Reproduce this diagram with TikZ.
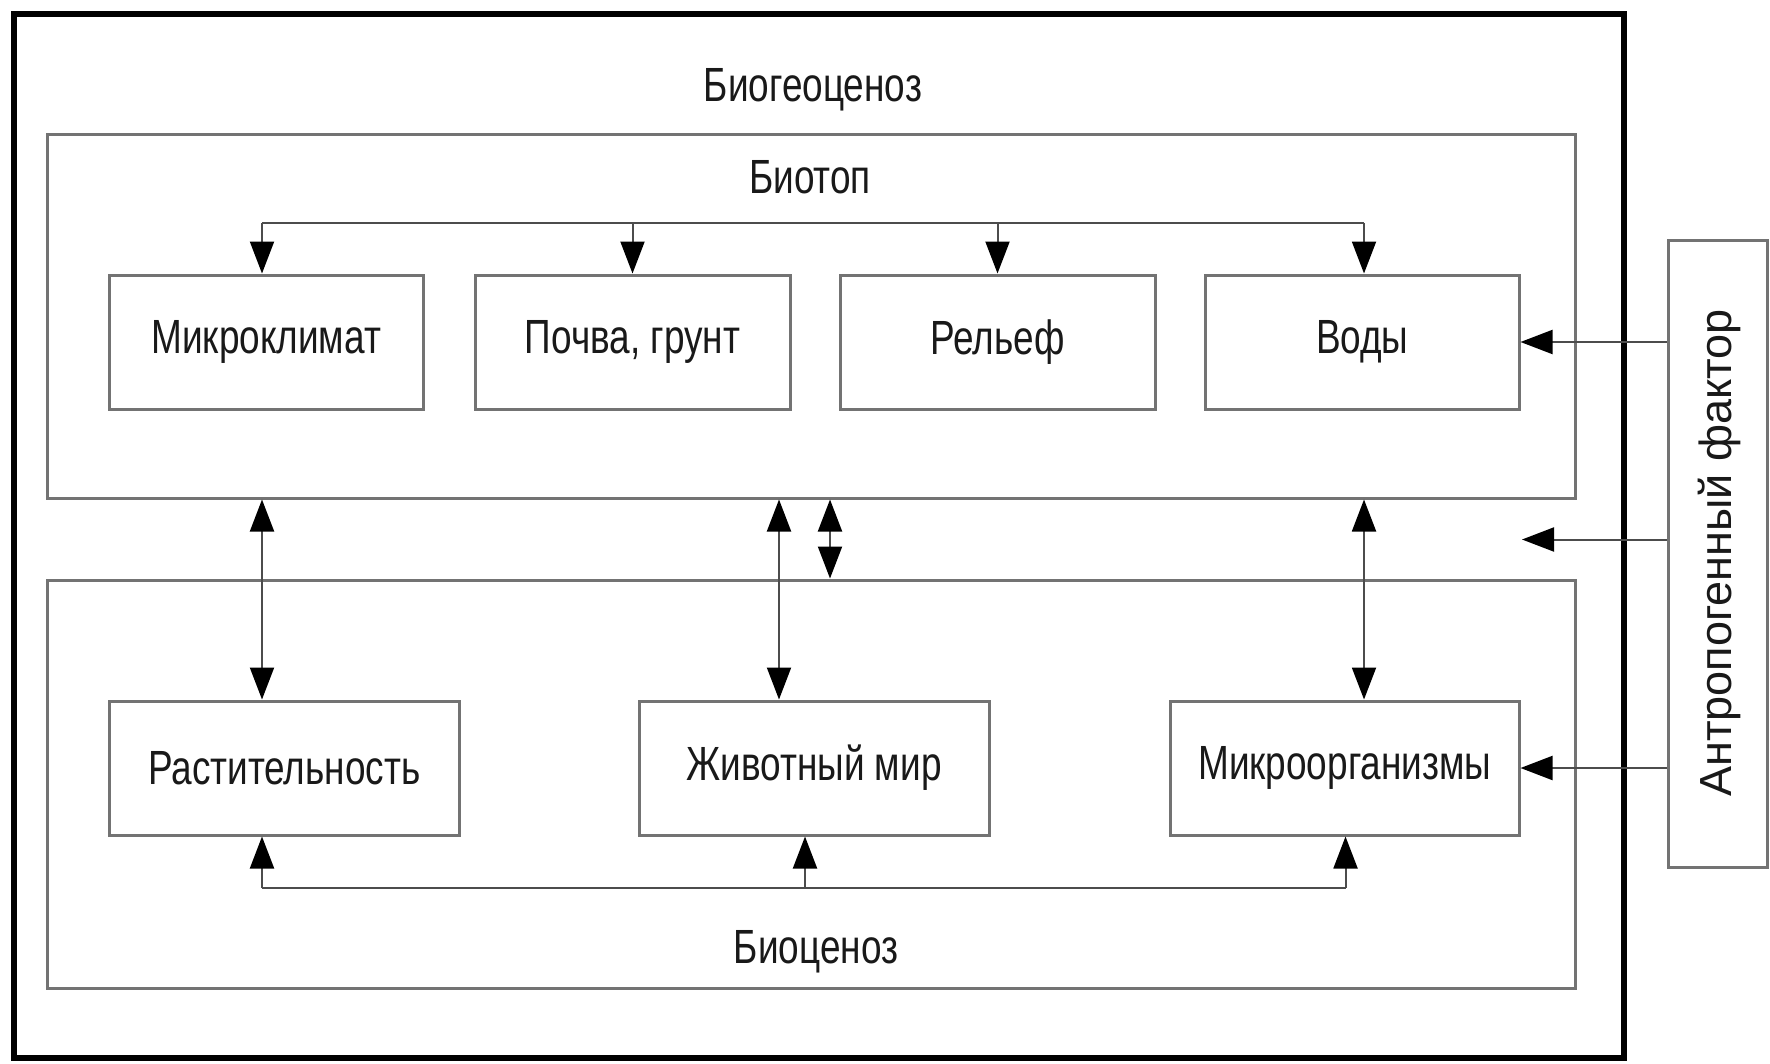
\documentclass[tikz,border=0pt]{standalone}
\usepackage{fontspec}
\setmainfont{Liberation Sans}
\newfontfamily\narrowfont[FakeStretch=0.77]{Liberation Sans}
\usetikzlibrary{arrows.meta}
\begin{document}
\begin{tikzpicture}[x=0.5pt,y=-0.5pt,
  boxline/.style={draw=black!55, line width=1.5pt},
  box/.style={boxline, rectangle, inner sep=0pt, font=\narrowfont\fontsize{24}{28}\selectfont, text=black!90},
  lbl/.style={font=\narrowfont\fontsize{24}{28}\selectfont, text=black!90, inner sep=0pt},
  conn/.style={draw=black!70, line width=1pt},
  arrowend/.style={-{Triangle[length=16pt,width=12pt,color=black]}},
  arrowboth/.style={{Triangle[length=16pt,width=12pt,color=black]}-{Triangle[length=16pt,width=12pt,color=black]}}
]
\useasboundingbox (0,0) rectangle (1770,1064);
\fill[white] (0,0) rectangle (1770,1064);

% frames
\node[draw=black, line width=3pt, minimum width=805.25pt, minimum height=522pt, inner sep=0pt] (outer) at (818.75,536) {};
\node[boxline, minimum width=764pt, minimum height=181.5pt, inner sep=0pt] (biotop) at (811,316.5) {};
\node[boxline, minimum width=764pt, minimum height=204pt, inner sep=0pt] (biocen) at (811,784) {};
\node[boxline, minimum width=49.5pt, minimum height=313.5pt, inner sep=0pt] (antro) at (1717.5,553.5) {};

% titles
\node[lbl] (tbgc) at (813,90) {Биогеоценоз};
\node[lbl] (tbiotop) at (810,177) {Биотоп};
\node[lbl] (tbiocen) at (816,952) {Биоценоз};
\node[rotate=90, inner sep=0pt, font=\fontsize{22.5}{26}\selectfont, text=black!90] (tantro) at (1719,553) {Антропогенный фактор};

% top row
\node[box, minimum width=156.75pt, minimum height=67pt] (mk) at (266.25,342) {Микроклимат};
\node[box, minimum width=157.5pt, minimum height=67pt] (pochva) at (632.5,342) {Почва, грунт};
\node[box, minimum width=157.5pt, minimum height=67pt] (relief) at (997.5,342) {Рельеф};
\node[box, minimum width=156.75pt, minimum height=67pt] (vody) at (1362.25,342) {Воды};

% bottom row
\node[box, minimum width=174.75pt, minimum height=67pt] (rast) at (284.25,768) {Растительность};
\node[box, minimum width=175pt, minimum height=67pt] (zhiv) at (814,768) {Животный мир};
\node[box, minimum width=174.25pt, minimum height=67pt] (mikro) at (1344.75,768) {Микроорганизмы};

% top bus
\coordinate (busL) at (262,223.5);
\coordinate (busR) at (1364,223.5);
\draw[conn] (busL) -- (busR);
\draw[conn,arrowend] (busL) -- (busL |- mk.north);
\draw[conn,arrowend] (pochva.north |- busL) -- (pochva.north);
\draw[conn,arrowend] (relief.north |- busL) -- (relief.north);
\draw[conn,arrowend] (busR) -- (busR |- vody.north);

% vertical links
\coordinate (colA) at (262,600);
\coordinate (colB) at (779,600);
\coordinate (colC) at (1364,600);
\coordinate (colD) at (830,540);
\draw[conn,arrowboth] (colA |- biotop.south) -- (colA |- rast.north);
\draw[conn,arrowboth] (colB |- biotop.south) -- (colB |- zhiv.north);
\draw[conn,arrowboth] (colC |- biotop.south) -- (colC |- mikro.north);
\draw[conn,arrowboth] (colD |- biotop.south) -- (colD |- biocen.north);

% bottom bus
\coordinate (bbL) at (262,888);
\coordinate (bbM) at (805,888);
\coordinate (bbR) at (1345.5,888);
\draw[conn] (bbL) -- (bbR);
\draw[conn,arrowend] (bbL) -- (bbL |- rast.south);
\draw[conn,arrowend] (bbM) -- (bbM |- zhiv.south);
\draw[conn,arrowend] (bbR) -- (bbR |- mikro.south);

% anthropogenic factor
\coordinate (free) at (1522,539.5);
\draw[conn,arrowend] (antro.west |- vody.east) -- (vody.east);
\draw[conn,arrowend] (antro.west |- free) -- (free);
\draw[conn,arrowend] (antro.west |- mikro.east) -- (mikro.east);
\end{tikzpicture}
\end{document}
